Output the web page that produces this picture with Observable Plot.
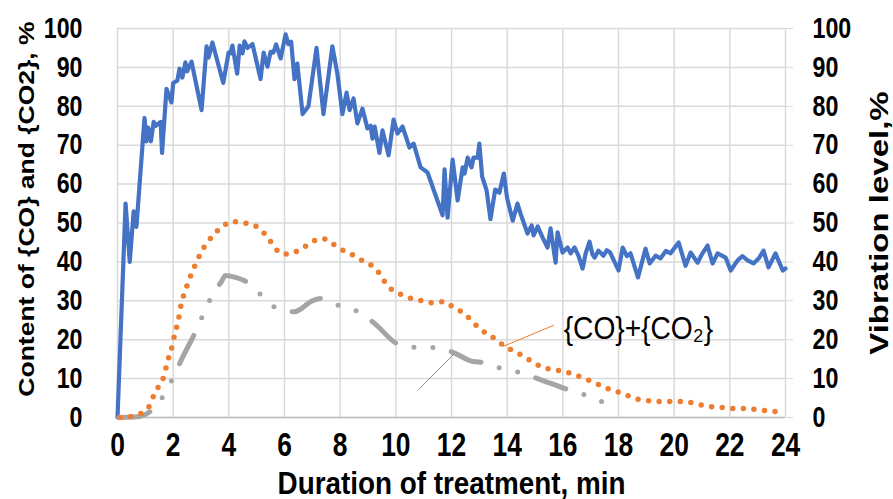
<!DOCTYPE html>
<html><head><meta charset="utf-8">
<script src="https://cdn.jsdelivr.net/npm/d3@7"></script>
<script src="https://cdn.jsdelivr.net/npm/@observablehq/plot@0.6"></script>
<style>
body{margin:0;background:#fff;}
#chart svg{display:block;}
</style></head><body><div id="chart"></div>
<script>
const xTicks = [0,2,4,6,8,10,12,14,16,18,20,22,24];
const yTicks = [0,10,20,30,40,50,60,70,80,90,100];
const xTitle = "Duration of treatment, min";
const yLeftTitle = "Content of {CO} and {CO2}, %";
const yRightTitle = "Vibration level,%";
const seriesLabel = "{CO}+{CO₂}";

// vibration level, % (right axis): [min, %]
const vibration = [[0,0],[0.29,55],[0.44,40],[0.58,53],[0.68,49],[0.97,77],[1.04,71],[1.1,74.5],[1.2,71],[1.3,76],[1.37,75],[1.55,76],[1.6,68],[1.76,84.5],[1.94,81],[2.0,86],[2.15,86.6],[2.23,89.7],[2.33,87.4],[2.44,91.3],[2.5,89],[2.66,91.5],[3.02,79],[3.2,95.4],[3.27,92.5],[3.41,96.4],[3.8,86],[3.99,93.8],[4.06,93.6],[4.13,95.6],[4.3,88.4],[4.39,95.6],[4.49,93.6],[4.56,96.7],[4.67,95],[4.85,96],[5.14,87],[5.25,93.8],[5.39,90.2],[5.5,94],[5.6,93.8],[5.7,95.9],[5.86,92.3],[6.04,98.5],[6.14,96],[6.24,96.6],[6.36,87],[6.46,91],[6.65,78],[6.86,80],[7.15,95],[7.4,78],[7.72,95.4],[7.9,88.4],[8.08,78],[8.23,83.5],[8.34,79],[8.48,82],[8.62,75.6],[8.8,79.4],[8.98,74.3],[9.09,75],[9.16,71.7],[9.24,74.8],[9.41,68],[9.52,73.8],[9.74,67.4],[9.92,76.6],[10.06,73],[10.24,74.8],[10.49,69.4],[10.64,70.4],[10.89,64.3],[11.14,63],[11.68,52],[11.75,63.8],[11.86,51.4],[12.04,66.3],[12.22,55.8],[12.4,64.3],[12.47,62.7],[12.58,66.8],[12.72,64.3],[12.79,66.8],[12.94,66.8],[13.0,70.4],[13.1,62],[13.26,58.4],[13.4,51],[13.57,58.6],[13.72,57.8],[13.88,62.7],[14.0,56.3],[14.2,50.6],[14.37,55],[14.48,52.4],[14.73,47.3],[14.88,49.4],[14.95,46.8],[15.1,49.1],[15.27,46.3],[15.45,43.7],[15.56,48.6],[15.74,39.8],[15.81,47.6],[15.99,42.4],[16.17,43.7],[16.28,42.2],[16.42,43.7],[16.56,41.6],[16.71,38.3],[16.82,42.2],[16.96,45.2],[17.06,42],[17.14,41.1],[17.28,42.9],[17.46,41.6],[17.58,43],[17.7,42.4],[18.0,37.8],[18.15,43.7],[18.3,41.5],[18.43,42.2],[18.7,36],[18.97,43.4],[19.12,39.6],[19.33,41.6],[19.51,40.9],[19.7,42.8],[19.87,42.2],[20.16,45],[20.41,39],[20.59,42.4],[20.84,39.8],[21.0,42],[21.2,44.2],[21.38,39.6],[21.56,42.2],[21.85,41.1],[22.03,37.8],[22.28,40.4],[22.45,41.5],[22.64,40.4],[22.85,39.6],[23.05,41],[23.21,42.9],[23.39,38.6],[23.64,42.2],[23.9,37.8],[24.0,38.3]];

// {CO}+{CO2}, % (left axis)
const coSum = [[0.1,0],[0.5,0.3],[0.9,1.3],[1.15,3],[1.3,5.6],[1.48,8],[1.66,10.5],[1.75,13],[1.86,16],[1.97,18.5],[2.05,21.3],[2.15,24],[2.23,26.7],[2.3,29.6],[2.41,32],[2.55,35],[2.69,37.5],[2.84,40],[3.02,42.7],[3.23,45],[3.49,47.3],[3.77,49],[4.1,50.4],[4.46,50.1],[4.85,49.6],[5.17,48],[5.43,46],[5.64,43.7],[5.96,42],[6.32,42.4],[6.68,43.7],[7.0,45.2],[7.37,46],[7.72,44.7],[8.05,43.2],[8.4,42],[8.73,40.6],[9.09,39.3],[9.38,37.3],[9.59,35],[9.85,32.9],[10.2,31.6],[10.56,30.6],[10.96,30],[11.32,29.5],[11.71,29.8],[12.07,28.3],[12.4,27],[12.68,25.2],[12.97,23.1],[13.26,21.6],[13.62,20],[13.9,18.3],[14.27,17],[14.59,15.7],[14.95,14.1],[15.27,12.9],[15.67,12.3],[16.06,11.8],[16.42,11],[16.78,10],[17.14,9],[17.5,7.7],[17.86,6.9],[18.25,5.9],[18.58,4.9],[19.0,4.4],[19.4,4.1],[19.8,4.1],[20.16,4.1],[20.55,3.9],[20.91,3.3],[21.3,2.8],[21.7,2.6],[22.1,2.3],[22.5,2.3],[22.9,2.1],[23.28,1.8],[23.7,1.5],[24.0,1.5]];

// second gas component, % (left axis)
const coPart = [[0.05,0],[0.6,0.1],[1.0,0.8],[1.3,2.3],[1.7,6.2],[2.0,10.3],[2.3,14.9],[2.84,22.6],[3.09,26.7],[3.38,31.1],[3.74,35],[3.88,36.5],[4.24,36],[4.78,34.2],[5.25,30.8],[5.75,28],[6.36,27.2],[7.0,30],[7.3,30.6],[7.44,30],[8.08,28.5],[8.7,27],[9.23,24.2],[10.1,18.8],[10.78,18],[11.46,18],[12.07,16.7],[12.76,14.4],[13.19,14.1],[13.8,12.6],[14.44,11.6],[15.09,10],[16.17,7.2],[16.85,5.7],[17.46,3.9]];

// annotation leader lines [x, y] in data units, and label anchor
const orangeLeader = [[15.67,23.7],[13.87,18.3]];
const grayLeader = [[10.82,7.2],[12.07,16.2]];
const labelAt = [[16.03,22.9]];

const font = "'Liberation Sans', Arial, Helvetica, sans-serif";

const chart = Plot.plot({
  width: 893, height: 499,
  marginLeft: 117, marginRight: 108, marginTop: 28, marginBottom: 82,
  style: {fontFamily: font, background: "#fff", color: "#000", overflow: "visible"},
  x: {domain: [0, 24]},
  y: {domain: [0, 100]},
  marks: [
    Plot.gridX(xTicks, {stroke: "#d9d9d9", strokeOpacity: 1, strokeWidth: 1.5}),
    Plot.gridY(yTicks, {stroke: "#d9d9d9", strokeOpacity: 1, strokeWidth: 1.5}),
    Plot.ruleY([0], {stroke: "#bfbfbf", strokeWidth: 1.5}),
    Plot.line(vibration, {x: d => d[0], y: d => d[1], stroke: "#4472C4", strokeWidth: 4.2, strokeLinejoin: "round"}),
    Plot.line(coPart, {x: d => d[0], y: d => d[1], stroke: "#A5A5A5", strokeWidth: 5, curve: "monotone-x", strokeLinecap: "round", strokeDasharray: "32 19 0 19 0 19"}),
    Plot.line(coSum, {x: d => d[0], y: d => d[1], stroke: "#ED7D31", strokeWidth: 5.5, curve: "monotone-x", strokeLinecap: "round", strokeDasharray: "0 10.6"}),
    Plot.line(orangeLeader, {x: d => d[0], y: d => d[1], stroke: "#ED7D31", strokeWidth: 1}),
    Plot.line(grayLeader, {x: d => d[0], y: d => d[1], stroke: "#8c8c8c", strokeWidth: 1}),
    Plot.text(labelAt, {x: d => d[0], y: d => d[1], text: () => seriesLabel, textAnchor: "start", fontSize: 32, fill: "#000"}),
    Plot.axisX(xTicks, {tickSize: 0, tickPadding: 15, fontSize: 33, fontWeight: "bold", label: null}),
    Plot.axisY(yTicks, {anchor: "left", tickSize: 0, tickPadding: 35, fontSize: 29, fontWeight: "bold", label: null}),
    Plot.axisY(yTicks, {anchor: "right", tickSize: 7, stroke: "#d9d9d9", tickPadding: 20, fontSize: 29, fontWeight: "bold", label: null}),
    Plot.text([yLeftTitle], {frameAnchor: "left", dx: -90, dy: -14, rotate: -90, textAnchor: "middle", fontSize: 26.5, fontWeight: "bold", fill: "#000"}),
    Plot.text([yRightTitle], {frameAnchor: "right", dx: 94, rotate: -90, textAnchor: "middle", fontSize: 33, fontWeight: "bold", fill: "#000"}),
    Plot.text([xTitle], {frameAnchor: "bottom", dy: 76, fontSize: 32, fontWeight: "bold", fill: "#000"})
  ]
});
document.getElementById("chart").append(chart);

// the reference picture is horizontally compressed: squeeze texts in x about their anchor
const squeezeFor = t => t.textContent === xTitle ? 0.87 : t.textContent === seriesLabel ? 0.88 : 0.8;
chart.querySelectorAll("text").forEach(t => {
  const r = t.getBoundingClientRect();
  const anchor = getComputedStyle(t).textAnchor;
  const rotated = (t.getAttribute("transform") || "").includes("rotate");
  let sx;
  if (rotated || anchor === "middle") sx = (r.left + r.right) / 2;
  else if (anchor === "end") sx = r.right;
  else sx = r.left;
  const m = t.parentNode.getScreenCTM();
  const cx = (sx - m.e) / m.a;
  const k = squeezeFor(t);
  t.setAttribute("transform", `translate(${cx},0) scale(${k},1) translate(${-cx},0) ` + (t.getAttribute("transform") || ""));
});
</script></body></html>
